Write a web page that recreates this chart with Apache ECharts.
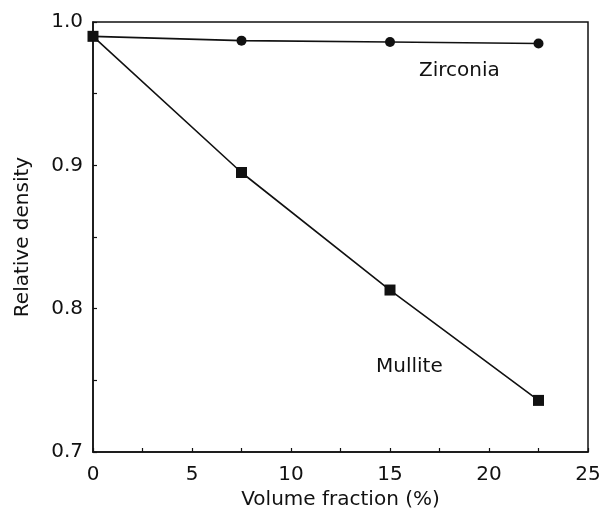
<!DOCTYPE html>
<html>
<head>
<meta charset="utf-8">
<script src="https://cdn.jsdelivr.net/npm/echarts@6/dist/echarts.min.js"></script>
<style>
  html, body { margin: 0; padding: 0; background: #fff; }
  #chart { width: 605px; height: 515px; }
</style>
</head>
<body>
<div id="chart"></div>
<script>
// Volume fraction of second phase (%)
const volumeFraction = [0, 7.5, 15, 22.5];
// Relative density of the composites
const zirconiaDensity = [0.990, 0.987, 0.986, 0.985];
const mulliteDensity = [0.990, 0.895, 0.813, 0.736];
const seriesNames = ['Zirconia', 'Mullite'];

const FONT = 'DejaVu Sans';
const INK = '#111';

function pairs(xs, ys) {
  return xs.map((x, i) => [x, ys[i]]);
}

const chart = echarts.init(document.getElementById('chart'), null, { renderer: 'canvas' });

const axisCommon = {
  axisLine: { show: true, lineStyle: { color: INK, width: 1.5 } },
  axisTick: { show: true, inside: true, length: 4, lineStyle: { color: INK, width: 1.2 } },
  minorTick: { show: true, splitNumber: 2, length: 4, lineStyle: { color: INK, width: 1.2 } },
  splitLine: { show: false },
  axisLabel: { color: INK, fontFamily: FONT, fontSize: 20 },
  nameTextStyle: { color: INK, fontFamily: FONT, fontSize: 20 }
};

chart.setOption({
  animation: false,
  backgroundColor: '#fff',
  grid: {
    left: 93, right: 17, top: 22, bottom: 63,
    show: true, borderColor: INK, borderWidth: 1.5, backgroundColor: 'transparent'
  },
  xAxis: Object.assign({}, axisCommon, {
    type: 'value', min: 0, max: 25, interval: 5,
    name: 'Volume fraction (%)', nameLocation: 'middle', nameGap: 38,
    axisLabel: Object.assign({}, axisCommon.axisLabel, { margin: 13 })
  }),
  yAxis: Object.assign({}, axisCommon, {
    type: 'value', min: 0.7, max: 1.0, interval: 0.1,
    name: 'Relative density', nameLocation: 'middle', nameGap: 60,
    axisLabel: Object.assign({}, axisCommon.axisLabel, {
      margin: 10,
      formatter: v => v.toFixed(1)
    })
  }),
  series: [
    {
      name: seriesNames[0], type: 'line', z: 2,
      data: pairs(volumeFraction, zirconiaDensity),
      symbol: 'circle', symbolSize: 10,
      lineStyle: { color: INK, width: 1.6 },
      itemStyle: { color: INK }
    },
    {
      name: seriesNames[1], type: 'line', z: 3,
      data: pairs(volumeFraction, mulliteDensity),
      symbol: 'rect', symbolSize: 11,
      lineStyle: { color: INK, width: 1.6 },
      itemStyle: { color: INK }
    }
  ],
  graphic: [
    { type: 'text', left: 419, top: 61, style: { text: seriesNames[0], fill: INK, font: '20px "DejaVu Sans"' } },
    { type: 'text', left: 376, top: 357, style: { text: seriesNames[1], fill: INK, font: '20px "DejaVu Sans"' } }
  ]
});
</script>
</body>
</html>
